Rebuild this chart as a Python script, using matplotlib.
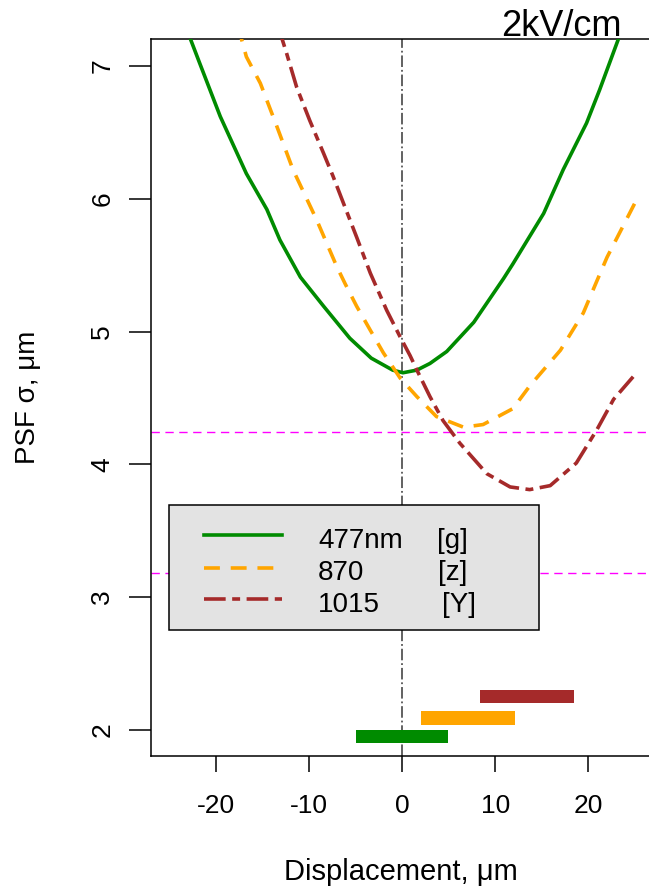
import numpy as np
import matplotlib.pyplot as plt
from matplotlib.patches import Rectangle

plt.rcParams['font.family'] = ['Liberation Sans', 'DejaVu Sans']
plt.rcParams['axes.unicode_minus'] = False

# --- data ---
green_x = [-23.5, -21.7, -19.5, -16.7, -14.5, -13.1, -10.9, -8.4, -5.6, -3.3, -1.0, 0.1,
           1.6, 3.0, 4.8, 7.7, 10.9, 11.9, 15.2, 17.3, 19.8, 21.2, 23.2, 23.8]
green_y = [7.35, 7.02, 6.62, 6.19, 5.92, 5.69, 5.41, 5.19, 4.95, 4.80, 4.71, 4.69,
           4.71, 4.76, 4.85, 5.07, 5.40, 5.51, 5.89, 6.22, 6.57, 6.82, 7.20, 7.32]

orange_x = [-17.6, -16.7, -15.2, -13.4, -11.7, -9.15, -7.0, -6.1, -4.86, -3.4, -2.0, -0.2,
            1.6, 3.7, 6.6, 8.7, 11.9, 13.7, 17.0, 19.45, 20.9, 22.0, 25.0]
orange_y = [7.30, 7.07, 6.87, 6.54, 6.22, 5.84, 5.49, 5.36, 5.19, 5.01, 4.84, 4.65,
            4.51, 4.36, 4.28, 4.30, 4.42, 4.59, 4.86, 5.14, 5.38, 5.56, 5.97]

red_x = [-13.3, -12.4, -11.3, -9.9, -8.4, -7.4, -6.3, -4.86, -3.4, -1.64, -0.2, 0.86,
         1.6, 3.0, 4.4, 6.2, 9.1, 11.6, 13.7, 15.9, 18.7, 20.9, 22.7, 24.8]
red_y = [7.30, 7.10, 6.84, 6.59, 6.34, 6.17, 5.97, 5.71, 5.44, 5.16, 4.96, 4.82,
         4.71, 4.51, 4.33, 4.16, 3.93, 3.83, 3.81, 3.84, 4.01, 4.26, 4.49, 4.66]

# range bars at the bottom (left, right, centre)
bar_left = [-4.9, 2.0, 8.4]
bar_right = [4.9, 12.1, 18.45]
bar_y = [1.95, 2.09, 2.25]

hlines_y = [4.245, 3.18]

names = ['477nm', '870', '1015']
bands = ['[g]', '[z]', '[Y]']
colors = ['#008B00', '#FFA500', '#A52A2A']

# --- figure ---
fig = plt.figure(figsize=(6.49, 8.86), dpi=100)
ax = fig.add_axes([151/649, 130/886, 498/649, 716.7/886])

ax.plot(green_x, green_y, color=colors[0], lw=2.6, zorder=3)
ax.plot(orange_x, orange_y, color=colors[1], lw=2.6, dashes=(4.4, 3.0), zorder=3)
ax.plot(red_x, red_y, color=colors[2], lw=2.6, dashes=(6.0, 1.8, 2.2, 1.8), zorder=3)

for yv in hlines_y:
    ax.axhline(yv, color='magenta', lw=1.0, dashes=(6, 4), zorder=2)
ax.axvline(0, color='#555555', lw=1.3, linestyle='dashdot', zorder=2)

ax.barh(bar_y, np.array(bar_right) - np.array(bar_left), left=bar_left,
        height=0.1, color=colors, zorder=3)

ax.set_xlim(-26.93, 26.50)
ax.set_ylim(1.804, 7.201)
ax.set_xticks([-20, -10, 0, 10, 20])
ax.set_yticks([2, 3, 4, 5, 6, 7])
ax.set_xticklabels(['-20', '-10', '0', '10', '20'])
ax.tick_params(axis='x', length=11.5, width=1.1, pad=16, labelsize=19)
ax.tick_params(axis='y', length=15.5, width=1.1, pad=11, labelsize=19, labelrotation=90)
for lab in ax.get_yticklabels():
    lab.set_va('center')
ax.spines['right'].set_visible(False)
for s in ['left', 'bottom', 'top']:
    ax.spines[s].set_linewidth(1.1)

# --- legend box (drawn by hand, pixel layout of reference) ---
def px(x, y):
    return ((x - 151) / 498, (756 - y) / 716.7)

x0, y0 = px(169, 630)
x1, y1 = px(539, 505)
ax.add_patch(Rectangle((x0, y0), x1 - x0, y1 - y0, transform=ax.transAxes,
                       facecolor='#E3E3E3', edgecolor='black', lw=1.1, zorder=5))
row_y = [535, 568, 599]
base_y = [548, 580.5, 612]
styles = [dict(), dict(dashes=(4.4, 3.0)), dict(dashes=(6.0, 1.8, 2.2, 1.8))]
band_x = [437, 438, 442]
for i in range(3):
    la, ly = px(204, row_y[i])
    lb, _ = px(282, row_y[i])
    ax.plot([la, lb], [ly, ly], transform=ax.transAxes, color=colors[i], lw=2.6,
            zorder=6, clip_on=False, **styles[i])
    tx, ty = px(318, base_y[i])
    ax.text(tx, ty, names[i], transform=ax.transAxes, fontsize=20,
            va='baseline', ha='left', zorder=6)
    bx, _ = px(band_x[i], base_y[i])
    ax.text(bx, ty, bands[i], transform=ax.transAxes, fontsize=20,
            va='baseline', ha='left', zorder=6)

# --- labels ---
fig.text(622/649, 1 - 36/886, '2kV/cm', ha='right', va='baseline', fontsize=26)
fig.text(401/649, 1 - 880/886, 'Displacement, μm', ha='center', va='baseline', fontsize=21)
fig.text(28/649, 1 - 397/886, 'PSF σ, μm', ha='center', va='center', rotation=90, fontsize=20)

fig.savefig('out.png', dpi=100)
